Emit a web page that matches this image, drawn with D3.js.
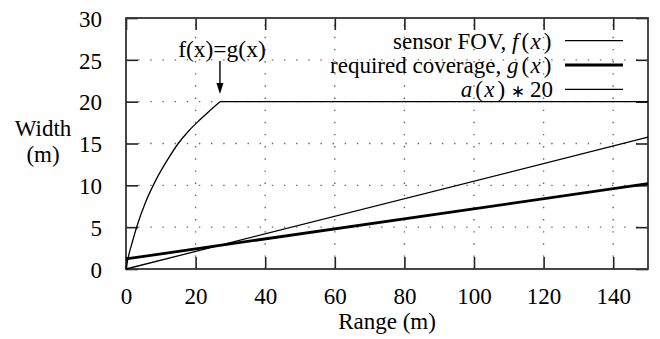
<!DOCTYPE html>
<html>
<head>
<meta charset="utf-8">
<script src="https://cdn.jsdelivr.net/npm/d3@7"></script>
<style>
	body { margin: 0; background: #fff; }
</style>
</head>
<body>
<div id="chart"></div>
<script>
// data
var xTicks = [0, 20, 40, 60, 80, 100, 120, 140];
var yTicks = [0, 5, 10, 15, 20, 25, 30];

// sensor FOV f(x): rises, then saturates at 20
var fovX = [0, 0.7, 1.8, 3.1, 5.5, 8.8, 12, 15, 18, 21, 24, 27];
var fovY = [0, 1.5, 3.2, 5.05, 7.85, 10.8, 13.1, 15.0, 16.5, 17.75, 18.9, 20];
var fovFlatX = [27, 150];
var fovFlatY = [20, 20];

// required coverage g(x) and a(x)*20 (straight lines)
var lineX = [0, 150];
var coverageY = [1.2, 10.2];
var aScaledY = [0, 15.75];

// legend labels, [text, kind] pieces: 0 text, 1 math italic, 2 math upright, 3 operator
var legendLabels = [
	[["sensor FOV, ", 0], ["f", 1], ["(", 2], ["x", 1], [")", 2]],
	[["required coverage, ", 0], ["g", 1], ["(", 2], ["x", 1], [")", 2]],
	[["a", 1], ["(", 2], ["x", 1], [")", 2], ["\u2217", 3], ["20", 0]]
];
var legendWidths = [1.3, 2.8, 1.3];

var serif = '"Liberation Serif", "Times New Roman", serif';
var W = 660, H = 339;
var margin = { top: 18, right: 12, bottom: 70, left: 126 };
var w = W - margin.left - margin.right,
	h = H - margin.top - margin.bottom;

var svg = d3.select("#chart").append("svg")
	.attr("width", W)
	.attr("height", H)
	.style("font-family", serif);

var g = svg.append("g")
	.attr("transform", "translate(" + margin.left + "," + margin.top + ")");

var x = d3.scaleLinear().domain([0, 150]).range([0, w]);
var y = d3.scaleLinear().domain([0, 30]).range([h, 0]);

//dotted grid
g.selectAll(".vgrid")
	.data(xTicks.slice(1))
	.enter().append("line")
	.attr("x1", function (d) { return x(d); })
	.attr("x2", function (d) { return x(d); })
	.attr("y1", h)
	.attr("y2", 0)
	.style("stroke", "#666")
	.style("stroke-width", 1.4)
	.style("stroke-dasharray", "1.4,10.75");

g.selectAll(".hgrid")
	.data(yTicks.slice(1, -1))
	.enter().append("line")
	.attr("x1", 0)
	.attr("x2", w)
	.attr("y1", function (d) { return y(d); })
	.attr("y2", function (d) { return y(d); })
	.style("stroke", "#666")
	.style("stroke-width", 1.4)
	.style("stroke-dasharray", "1.4,10.75");

//axes, ticks inward and mirrored
var tickLen = 12;
var axBottom = g.append("g").attr("transform", "translate(0," + h + ")")
	.call(d3.axisBottom(x).tickValues(xTicks).tickSize(-tickLen).tickPadding(tickLen + 7));
var axLeft = g.append("g")
	.call(d3.axisLeft(y).tickValues(yTicks).tickSize(-tickLen).tickPadding(tickLen + 12));
var axTop = g.append("g")
	.call(d3.axisTop(x).tickValues(xTicks).tickSize(-tickLen).tickFormat(""));
var axRight = g.append("g").attr("transform", "translate(" + w + ",0)")
	.call(d3.axisRight(y).tickValues(yTicks).tickSize(-tickLen).tickFormat(""));

[axBottom, axLeft, axTop, axRight].forEach(function (a) {
	a.attr("font-family", null).attr("font-size", null);
	a.select(".domain").remove();
	a.selectAll(".tick line").style("stroke", "#222").style("stroke-width", 1.6);
	a.selectAll("text").style("font-family", serif).style("font-size", "23px").attr("fill", "#000");
});
axBottom.selectAll("text").attr("dy", "0.71em");
axLeft.selectAll("text").attr("dy", "0.36em");

//frame
g.append("rect")
	.attr("width", w)
	.attr("height", h)
	.style("fill", "none")
	.style("stroke", "#333")
	.style("stroke-width", 1.8);

//curves
var riseLine = d3.line()
	.x(function (d) { return x(d[0]); })
	.y(function (d) { return y(d[1]); })
	.curve(d3.curveMonotoneX);
var straight = d3.line()
	.x(function (d) { return x(d[0]); })
	.y(function (d) { return y(d[1]); });

function zip(a, b) { return a.map(function (v, i) { return [v, b[i]]; }); }

g.append("path")
	.attr("d", riseLine(zip(fovX, fovY)))
	.style("fill", "none").style("stroke", "#000").style("stroke-width", 1.3);
g.append("path")
	.attr("d", straight(zip(fovFlatX, fovFlatY)))
	.style("fill", "none").style("stroke", "#000").style("stroke-width", 1.3);
g.append("path")
	.attr("d", straight(zip(lineX, aScaledY)))
	.style("fill", "none").style("stroke", "#000").style("stroke-width", 1.3);
g.append("path")
	.attr("d", straight(zip(lineX, coverageY)))
	.style("fill", "none").style("stroke", "#000").style("stroke-width", 2.8);

//annotation f(x)=g(x)
var ax = x(fovFlatX[0]);
g.append("text")
	.attr("x", ax + 2)
	.attr("y", 39)
	.attr("text-anchor", "middle")
	.style("font-family", serif)
	.style("font-size", "23.5px")
	.text("f(x)=g(x)");
g.append("line")
	.attr("x1", ax).attr("x2", ax)
	.attr("y1", 43).attr("y2", 66)
	.style("stroke", "#000").style("stroke-width", 1.4);
g.append("path")
	.attr("d", "M" + (ax - 3.5) + ",65L" + (ax + 3.5) + ",65L" + ax + ",76Z")
	.style("fill", "#000");

//legend
var legendRows = [22.7, 47, 71.3];
var legend = g.selectAll(".legend")
	.data(legendLabels)
	.enter().append("g")
	.attr("transform", function (d, i) { return "translate(0," + legendRows[i] + ")"; });

legend.append("text")
	.attr("x", 427)
	.attr("y", 8)
	.attr("text-anchor", "end")
	.style("font-family", serif)
	.style("font-size", "23px")
	.each(function (d) {
		var t = d3.select(this);
		d.forEach(function (p) {
			var s = t.append("tspan").text(p[0]);
			if (p[1] === 1) s.style("font-style", "italic").style("letter-spacing", "3px");
			if (p[1] === 2) s.style("letter-spacing", "1.5px");
			if (p[1] === 3) s.attr("dx", 4).style("font-size", "17px").style("letter-spacing", "5px").style("font-family", "DejaVu Sans");
		});
	});

legend.append("line")
	.attr("x1", 439)
	.attr("x2", 497)
	.attr("y1", 0)
	.attr("y2", 0)
	.style("stroke", "#000")
	.style("stroke-width", function (d, i) { return legendWidths[i]; });

//axis titles
var titles = [["Width", 43, 136], ["(m)", 43, 162], ["Range (m)", margin.left + w / 2, 329]];
svg.selectAll(".title")
	.data(titles)
	.enter().append("text")
	.attr("x", function (d) { return d[1]; })
	.attr("y", function (d) { return d[2]; })
	.attr("text-anchor", "middle")
	.style("font-family", serif)
	.style("font-size", "23px")
	.text(function (d) { return d[0]; });
</script>
</body>
</html>
